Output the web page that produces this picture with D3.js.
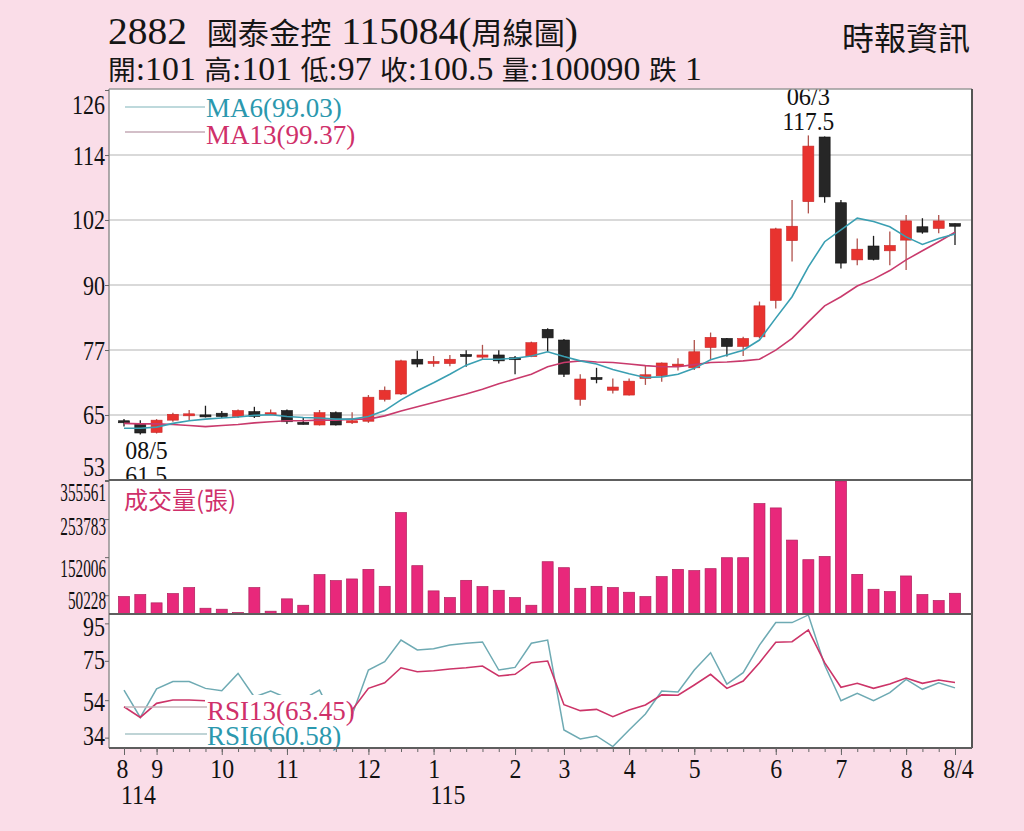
<!DOCTYPE html>
<html><head><meta charset="utf-8">
<script src="https://cdn.jsdelivr.net/npm/d3@7"></script>
<style>body{margin:0;background:#fadde8;} svg{display:block}</style>
</head><body>
<svg id="c" width="1024" height="831"></svg>
<script>
// ---------- data ----------
const open  = [63.9,63.6,61.9,64.2,65.1,65.0,65.5,64.9,65.8,65.3,66.0,63.6,63.3,65.6,63.6,64.0,68.1,69.1,75.6,74.7,74.8,76.3,76.0,76.4,75.7,76.1,81.2,79.2,68.1,72.0,69.8,68.9,72.0,72.5,74.2,74.0,77.8,79.5,78.0,79.8,86.6,97.8,105.1,117.2,104.9,94.2,96.8,95.9,97.9,100.4,100.1,101];
const high  = [64.4,64.2,64.4,65.6,66.1,66.9,65.9,66.2,66.7,66.2,66.2,64.6,66.1,65.8,65.7,68.9,70.5,75.5,77.2,76.2,76.4,77.3,78.3,77.3,76.2,78.9,81.4,79.4,72.8,74.0,72.0,72.0,74.5,75.0,75.8,79.2,80.6,79.6,79.8,86.4,100.2,105.4,117.5,117.3,105.4,98.2,98.7,99.5,102.6,102.0,102.6,101];
const low   = [63.0,61.5,61.7,63.9,64.2,64.7,64.6,64.6,64.6,65.2,63.5,63.4,63.2,63.2,63.5,63.7,67.7,68.9,74.1,74.2,74.3,74.2,75.5,74.8,72.8,76.0,77.0,72.3,66.9,71.1,69.2,68.8,70.8,71.4,73.5,73.6,75.6,76.1,76.2,79.5,85.1,93.9,102.9,104.9,92.6,93.2,94.1,93.2,92.3,99.1,99.2,97];
const close = [63.8,61.8,64.2,65.3,65.2,64.9,64.9,66.0,64.9,65.4,63.9,63.5,65.6,63.3,63.9,68.5,69.8,75.3,74.7,75.0,75.6,76.1,76.4,75.3,75.6,78.7,79.6,72.8,71.9,71.9,70.4,71.5,72.7,74.9,74.5,77.0,79.7,78.0,79.5,85.6,100.0,100.5,115.5,106.0,93.6,96.2,94.3,96.9,101.5,99.4,101.5,100.5];
const ma6   = [62.7,62.7,62.9,63.6,64.1,64.4,64.6,64.8,65.1,65.2,64.9,64.7,64.6,64.4,64.4,64.9,66.0,68.0,69.7,71.2,72.8,74.5,75.6,75.6,75.8,76.2,77.0,76.1,75.3,74.7,73.7,72.9,72.2,72.3,72.8,73.9,75.5,76.4,77.3,79.2,83.3,87.3,92.9,97.6,99.8,102.0,101.4,100.4,98.5,97.1,98.2,99.03];
const ma13  = [63.6,63.5,63.5,63.4,63.2,63.0,63.2,63.4,63.7,63.9,64.1,64.1,64.2,64.2,64.4,64.4,65.0,65.9,66.7,67.5,68.3,69.1,70.0,71.0,71.9,72.8,74.2,75.0,75.3,75.1,75.0,74.7,74.4,74.2,74.2,74.6,75.0,75.1,75.3,75.6,77.3,79.5,82.6,85.6,87.3,89.3,90.6,92.2,94.2,95.9,97.6,99.37];
const volume= [46600,51900,29800,54600,70600,15400,12800,4000,70600,7500,40500,23400,105200,89200,93700,119300,74000,271100,129200,61800,43900,90000,73200,63400,43900,23400,139800,123800,68700,74000,70600,58100,46600,99900,119300,115900,121200,150500,150500,295100,283600,197600,145200,153900,355561,106000,66100,59900,101700,51900,36000,55400];
const rsi6  = [59.4,44.8,60.0,63.9,63.9,60.3,59.0,68.3,55.7,58.9,55.2,54.6,59.4,42.0,46.1,70.1,74.5,86.1,80.8,81.5,83.4,84.4,85.1,70.1,71.5,84.4,86.1,38.1,33.3,34.9,29.2,38.1,46.6,58.9,58.4,70.1,79.3,62.6,68.7,83.4,95.4,95.4,99.5,72.8,53.7,57.7,53.7,58.0,65.1,59.8,63.3,60.58];
const rsi13 = [50.5,44.8,52.3,54.1,54.1,53.7,53.2,52.6,52.5,52.5,51.9,51.4,51.9,47.7,48.7,60.3,63.3,71.3,69.2,69.7,70.6,71.3,72.2,66.9,67.8,74.0,74.9,51.6,48.4,49.1,45.2,48.7,51.4,56.8,56.6,62.1,67.8,60.3,64.2,74.0,84.9,85.2,91.5,74.0,60.9,63.0,60.3,62.6,65.8,63.0,64.8,63.45];
const weeks = open.map((d, i) => i);

const priceTickValues = [126, 113.83, 101.67, 89.5, 77.33, 65.17, 53];
const priceTickLabels = ["126", "114", "102", "90", "77", "65", "53"];
const volTickValues   = [355561, 253783, 152006, 50228];
const rsiTickValues   = [95, 75, 54, 34];
const monthTickIdx    = [0, 2, 6, 10, 15, 19, 24, 27, 31, 35, 40, 44, 48, 51];
const monthTickLabels = ["8", "9", "10", "11", "12", "1", "2", "3", "4", "5", "6", "7", "8", "8/4"];
const yearTickIdx     = [0, 19];
const yearTickLabels  = ["114", "115"];

const titleLine1 = [["2882  ", "l"], ["國泰金控", "c"], [" 115084(", "l"], ["周線圖", "c"], [")", "l"]];
const titleLine2 = [["開", "c"], [":101 ", "l"], ["高", "c"], [":101 ", "l"], ["低", "c"], [":97 ", "l"], ["收", "c"], [":100.5 ", "l"], ["量", "c"], [":100090 ", "l"], ["跌", "c"], [" 1", "l"]];
const sourceLabel = "時報資訊";
const maLegend  = ["MA6(99.03)", "MA13(99.37)"];
const rsiLegend = ["RSI13(63.45)", "RSI6(60.58)"];
const volTitle  = "成交量(張)";
const lowNote   = ["08/5", "61.5"];
const highNote  = ["06/3", "117.5"];
const lowIdx = 1, highIdx = 42;

// ---------- layout ----------
const L = 109, R = 972, T = 89, B = 748, PB = 480, VB = 614;
const SERIF = "'Liberation Serif','Times New Roman',serif";
const CJK = "'Noto Sans CJK TC','Noto Sans CJK SC',sans-serif";
const TEAL = "#2b98ae", CRIMSON = "#cf306a";

const svg = d3.select("#c");
svg.append("rect").attr("width", 1024).attr("height", 831).attr("fill", "#fadde8");
svg.append("rect").attr("x", L).attr("y", T).attr("width", R - L).attr("height", B - T).attr("fill", "#fff");

const x  = d3.scaleLinear().domain([0, 51]).range([124, 955]);
const yP = d3.scaleLinear().domain([53, 126]).range([PB, 90]);
const yV = d3.scaleLinear().domain([0, 355561]).range([VB, 481]);
const yR = d3.scaleLinear().domain([29, 100]).range([747, VB]);

// condensed text helper
function cond(sel, sx, xPos) {
  sel.attr("x", xPos / sx).attr("transform", `scale(${sx},1)`);
}

// grid
svg.append("g").selectAll("line").data(priceTickValues.slice(1, -1)).join("line")
  .attr("x1", L).attr("x2", R).attr("y1", d => yP(d)).attr("y2", d => yP(d))
  .attr("stroke", "#cdcdcd").attr("stroke-width", 1.4);

// candles
const cg = svg.append("g").selectAll("g").data(weeks).join("g");
const up = i => close[i] >= open[i];
cg.append("line")
  .attr("x1", i => x(i)).attr("x2", i => x(i))
  .attr("y1", i => yP(high[i])).attr("y2", i => yP(low[i]))
  .attr("stroke", i => up(i) ? "#b0524c" : "#1e1e1e").attr("stroke-width", 1.3);
cg.append("rect")
  .attr("x", i => x(i) - 5.5).attr("width", 11)
  .attr("y", i => Math.min(yP(open[i]), yP(close[i])) - (Math.abs(yP(open[i]) - yP(close[i])) < 2 ? 1 : 0))
  .attr("height", i => Math.max(2, Math.abs(yP(open[i]) - yP(close[i]))))
  .attr("fill", i => up(i) ? "#e8332f" : "#262626")
  .attr("stroke", i => up(i) ? "#c8292a" : "#111").attr("stroke-width", 0.6);

// moving averages
const lineP = d3.line().x((d, i) => x(i)).y(d => yP(d));
svg.append("path").attr("d", lineP(ma13)).attr("fill", "none").attr("stroke", "#c93a6c").attr("stroke-width", 1.6);
svg.append("path").attr("d", lineP(ma6)).attr("fill", "none").attr("stroke", "#3a9fb2").attr("stroke-width", 1.6);

// MA legend
svg.append("line").attr("x1", 125).attr("x2", 205).attr("y1", 107).attr("y2", 107).attr("stroke", "#a9cdd0").attr("stroke-width", 1.5);
svg.append("line").attr("x1", 125).attr("x2", 205).attr("y1", 132).attr("y2", 132).attr("stroke", "#c4aab6").attr("stroke-width", 1.5);
svg.append("text").attr("x", 206).attr("y", 117).attr("font-family", SERIF).attr("font-size", 27).attr("fill", TEAL).text(maLegend[0]);
svg.append("text").attr("x", 206).attr("y", 144).attr("font-family", SERIF).attr("font-size", 27).attr("fill", CRIMSON).text(maLegend[1]);

// low / high notes (clipped to price panel)
svg.append("clipPath").attr("id", "pclip").append("rect").attr("x", L).attr("y", T).attr("width", R - L).attr("height", PB - T);
const ng = svg.append("g").attr("clip-path", "url(#pclip)").attr("font-family", SERIF).attr("font-size", 26).attr("fill", "#111");
ng.append("text").attr("y", 459).text(lowNote[0]).call(cond, 0.92, x(lowIdx) - 15);
ng.append("text").attr("y", 484).text(lowNote[1]).call(cond, 0.92, x(lowIdx) - 15);
ng.append("text").attr("y", 105).attr("text-anchor", "middle").text(highNote[0]).call(cond, 0.94, x(highIdx));
ng.append("text").attr("y", 130.5).attr("text-anchor", "middle").text(highNote[1]).call(cond, 0.9, x(highIdx));

// volume bars
svg.append("g").selectAll("rect").data(weeks).join("rect")
  .attr("x", i => x(i) - 5.5).attr("width", 11)
  .attr("y", i => yV(volume[i])).attr("height", i => VB - yV(volume[i]))
  .attr("fill", "#e8287b").attr("stroke", "#b01f5c").attr("stroke-width", 0.7);
svg.append("text").attr("x", 124).attr("y", 509).attr("font-family", CJK).attr("font-size", 24).attr("fill", CRIMSON).text(volTitle);

// RSI lines
const lineR = d3.line().x((d, i) => x(i)).y(d => yR(d));
svg.append("path").attr("d", lineR(rsi6)).attr("fill", "none").attr("stroke", "#6eaab3").attr("stroke-width", 1.5);
svg.append("path").attr("d", lineR(rsi13)).attr("fill", "none").attr("stroke", "#cc3468").attr("stroke-width", 1.6);

// RSI legend (white boxes hide the lines behind the texts)
svg.append("rect").attr("x", 205).attr("y", 695).attr("width", 146).attr("height", 28).attr("fill", "#fff");
svg.append("rect").attr("x", 205).attr("y", 723).attr("width", 133).attr("height", 24).attr("fill", "#fff");
svg.append("line").attr("x1", 125).attr("x2", 207).attr("y1", 707).attr("y2", 707).attr("stroke", "#c3b4ba").attr("stroke-width", 1.5);
svg.append("line").attr("x1", 125).attr("x2", 207).attr("y1", 734).attr("y2", 734).attr("stroke", "#aac6c9").attr("stroke-width", 1.5);
[[rsiLegend[0], 720, CRIMSON], [rsiLegend[1], 745, TEAL]].forEach(([t, y, c]) => {
  svg.append("text").attr("x", 207).attr("y", y).attr("font-family", SERIF).attr("font-size", 27)
    .attr("fill", c).text(t);
});

// panel borders
svg.append("line").attr("x1", L).attr("x2", R).attr("y1", T).attr("y2", T).attr("stroke", "#9a9a9a").attr("stroke-width", 1.4);
svg.append("line").attr("x1", L).attr("x2", L).attr("y1", T).attr("y2", B).attr("stroke", "#8a8a8a").attr("stroke-width", 1.4);
svg.append("line").attr("x1", R).attr("x2", R).attr("y1", T).attr("y2", B).attr("stroke", "#555").attr("stroke-width", 2);
[PB, VB, B].forEach(y => svg.append("line").attr("x1", L).attr("x2", R).attr("y1", y).attr("y2", y).attr("stroke", "#5e5e5e").attr("stroke-width", 1.8));

// y axes
function styleAxis(g) { g.select(".domain").remove(); g.selectAll(".tick line").attr("stroke", "#666"); }
const pAx = svg.append("g").attr("transform", `translate(${L},0)`)
  .call(d3.axisLeft(yP).tickValues(priceTickValues).tickFormat((d, i) => priceTickLabels[i]).tickSize(4))
  .call(styleAxis);
pAx.selectAll(".tick text").attr("font-family", SERIF).attr("font-size", 27.5).attr("fill", "#111")
  .attr("dy", 0).attr("y", (d, i) => i === 0 ? 23 : (i === priceTickValues.length - 1 ? -5 : 9)).call(cond, 0.8, -4);

const vAx = svg.append("g").attr("transform", `translate(${L},0)`)
  .call(d3.axisLeft(yV).tickValues(volTickValues).tickFormat(d3.format("d")).tickSize(4))
  .call(styleAxis);
vAx.selectAll(".tick text").attr("font-family", SERIF).attr("font-size", 25).attr("fill", "#111")
  .attr("dy", 0).attr("y", (d, i) => [19, 15, 19, 13][i]).call(cond, 0.61, -3);

const rAx = svg.append("g").attr("transform", `translate(${L},0)`)
  .call(d3.axisLeft(yR).tickValues(rsiTickValues).tickSize(4))
  .call(styleAxis);
rAx.selectAll(".tick text").attr("font-family", SERIF).attr("font-size", 27.5).attr("fill", "#111")
  .attr("dy", 0).attr("y", (d, i) => [12, 8, 10, 7][i]).call(cond, 0.8, -4);

// x axis
svg.append("g").attr("transform", `translate(0,${B})`)
  .call(d3.axisBottom(x).tickValues(weeks).tickFormat("").tickSize(4)).call(styleAxis);
const xAx = svg.append("g").attr("transform", `translate(0,${B})`)
  .call(d3.axisBottom(x).tickValues(monthTickIdx).tickFormat((d, i) => monthTickLabels[i]).tickSize(7))
  .call(styleAxis);
xAx.selectAll(".tick text").attr("font-family", SERIF).attr("font-size", 28).attr("fill", "#111")
  .attr("dy", 0).attr("y", 30).each(function (d, i) {
    d3.select(this).call(cond, 0.85, i === 0 ? -2 : (i === monthTickIdx.length - 1 ? 3 : 0));
  });
svg.append("g").selectAll("text").data(yearTickIdx).join("text")
  .attr("font-family", SERIF).attr("font-size", 28).attr("fill", "#111").attr("y", 804)
  .text((d, i) => yearTickLabels[i]).each(function (d) { d3.select(this).call(cond, 0.85, x(d) - 3); });

// titles
function rich(parts, xPos, y, len, lsize, csize) {
  const t = svg.append("text").attr("x", xPos).attr("y", y).attr("fill", "#151515")
    .attr("textLength", len).attr("lengthAdjust", "spacingAndGlyphs").style("white-space", "pre");
  parts.forEach(([s, k]) => t.append("tspan").attr("font-family", k === "c" ? CJK : SERIF)
    .attr("font-size", k === "c" ? csize : lsize).text(s));
}
rich(titleLine1, 108, 44, 470, 38, 30);
rich(titleLine2, 108, 80, 594, 33, 27);
svg.append("text").attr("x", 970).attr("y", 50).attr("text-anchor", "end").attr("font-family", CJK)
  .attr("font-size", 32).attr("fill", "#151515").text(sourceLabel);
</script>
</body></html>
